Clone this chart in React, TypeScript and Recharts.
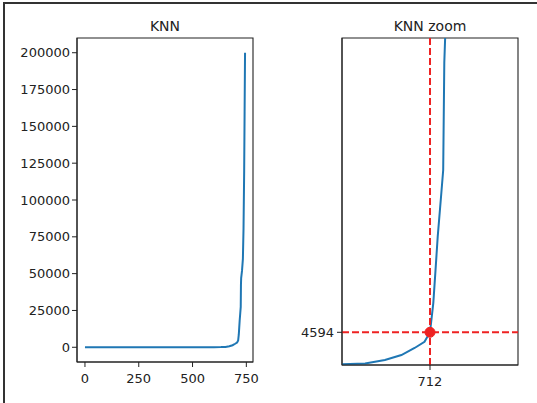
import React from 'react';
import { LineChart, Line, XAxis, YAxis, ReferenceLine, ReferenceDot, ReferenceArea } from 'recharts';

// sorted k-distance curve (index -> distance)
const knnIndex = [0, 100, 200, 300, 400, 500, 560, 600, 632, 653, 671, 686, 698, 707, 712, 715, 717, 719, 722, 724, 725, 726, 730, 734, 737, 740, 742, 744];
const knnDist = [2, 8, 15, 22, 30, 45, 60, 80, 120, 220, 700, 1400, 2390, 3270, 4594, 8700, 13300, 18000, 23600, 27400, 42500, 47000, 52000, 60000, 80800, 120000, 160000, 200000];

const fullXTicks = [0, 250, 500, 750];
const fullYTicks = [0, 25000, 50000, 75000, 100000, 125000, 150000, 175000, 200000];

const kneeX = 712;
const kneeY = 4594;

const data = knnIndex.map((x, i) => ({ x, y: knnDist[i] }));

const font = '"DejaVu Sans", sans-serif';
const ink = '#222';
const blue = '#1f77b4';
const red = '#ee2222';
const tick = { fontSize: 13, fill: ink, fontFamily: font };

const titleStyle: React.CSSProperties = {
    position: 'absolute',
    top: 17,
    fontFamily: font,
    fontSize: 14,
    color: ink,
    textAlign: 'center',
    lineHeight: '18px',
};

export default function App() {
    const fullX: [number, number] = [-37, 781];
    const fullY: [number, number] = [-10000, 210000];
    const zoomX: [number, number] = [632, 792];
    const zoomY: [number, number] = [0, 45940];

    return (
        <div style={{ position: 'absolute', left: 0, top: 0, width: 537, height: 403, background: '#fff', overflow: 'hidden' }}>
            <div style={{ position: 'absolute', left: 3, top: 2, right: -5, bottom: -5, borderTop: '2px solid #333', borderLeft: '2px solid #333' }} />

            <div style={{ ...titleStyle, left: 77, width: 176 }}>KNN</div>
            <div style={{ position: 'absolute', left: 0, top: 0 }}>
                <LineChart width={270} height={403} data={data} margin={{ top: 38, right: 17, bottom: 0, left: 0 }}>
                    <XAxis dataKey="x" type="number" domain={fullX} ticks={fullXTicks} interval={0}
                        height={41} tickSize={5} tickMargin={7} tick={tick}
                        stroke={ink} tickLine={{ stroke: ink }} axisLine={{ stroke: ink }} />
                    <YAxis type="number" domain={fullY} ticks={fullYTicks} interval={0}
                        width={77} tickSize={5} tickMargin={2} tick={tick}
                        stroke={ink} tickLine={{ stroke: ink }} axisLine={{ stroke: ink }} />
                    <ReferenceArea x1={fullX[0]} x2={fullX[1]} y1={fullY[0]} y2={fullY[1]} fill="none" stroke={ink} strokeWidth={1.1} ifOverflow="visible" />
                    <Line dataKey="y" type="linear" stroke={blue} strokeWidth={2} dot={false} isAnimationActive={false} />
                </LineChart>
            </div>

            <div style={{ ...titleStyle, left: 342, width: 176 }}>KNN zoom</div>
            <div style={{ position: 'absolute', left: 270, top: 0 }}>
                <LineChart width={267} height={403} data={data} margin={{ top: 38, right: 19, bottom: 0, left: 0 }}>
                    <XAxis dataKey="x" type="number" domain={zoomX} ticks={[kneeX]} interval={0} allowDataOverflow
                        height={38} tickSize={5} tickMargin={7} tick={tick}
                        stroke={ink} tickLine={{ stroke: ink }} axisLine={{ stroke: ink }} />
                    <YAxis type="number" domain={zoomY} ticks={[kneeY]} interval={0} allowDataOverflow
                        width={72} tickSize={5} tickMargin={3} tick={tick}
                        stroke={ink} tickLine={{ stroke: ink }} axisLine={{ stroke: ink }} />
                    <ReferenceArea x1={zoomX[0]} x2={zoomX[1]} y1={zoomY[0]} y2={zoomY[1]} fill="none" stroke={ink} strokeWidth={1.1} ifOverflow="visible" />
                    <Line dataKey="y" type="linear" stroke={blue} strokeWidth={2} dot={false} isAnimationActive={false} />
                    <ReferenceLine x={kneeX} stroke={red} strokeWidth={2} strokeDasharray="7 3" />
                    <ReferenceLine y={kneeY} stroke={red} strokeWidth={2} strokeDasharray="7 3" />
                    <ReferenceDot x={kneeX} y={kneeY} r={5} fill={red} stroke={red} />
                </LineChart>
            </div>
        </div>
    );
}
